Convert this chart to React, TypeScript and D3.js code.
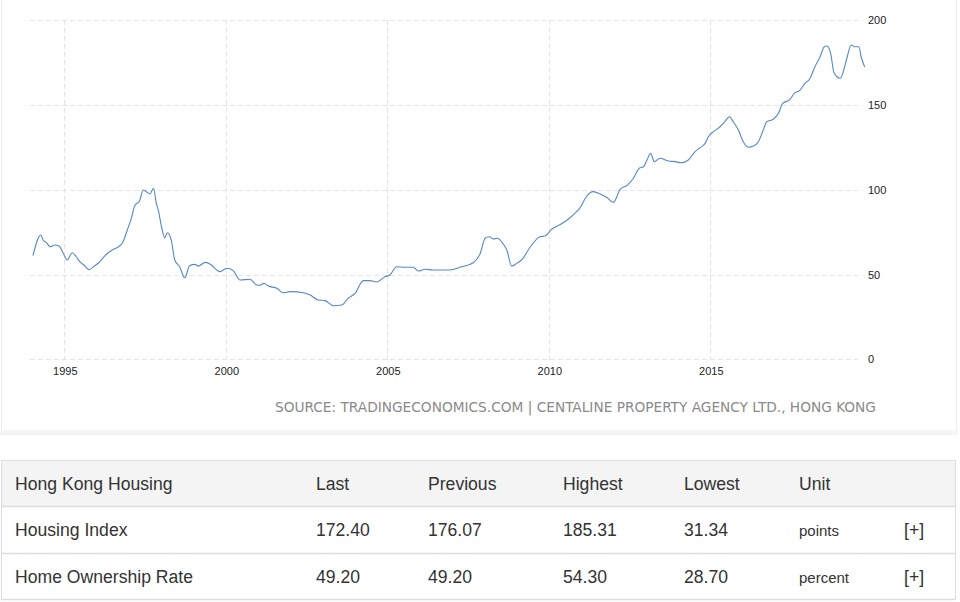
import React from "react";
import * as d3 from "d3";

// Hong Kong Housing Index (Centaline)
const years: number[] = [
  1994.03, 1994.27, 1994.36, 1994.44, 1994.56, 1994.7, 1994.84, 1994.96,
  1995.09, 1995.25, 1995.37, 1995.48, 1995.63, 1995.76, 1995.94,
  1996.06, 1996.2, 1996.35, 1996.54, 1996.68, 1996.82, 1996.95,
  1997.07, 1997.18, 1997.33, 1997.44, 1997.54, 1997.65, 1997.76, 1997.85, 1997.92,
  1998.0, 1998.11, 1998.19, 1998.31, 1998.42, 1998.57, 1998.73, 1998.88,
  1999.04, 1999.15, 1999.36, 1999.51, 1999.82,
  2000.03, 2000.23, 2000.44, 2000.75, 2000.96,
  2001.06, 2001.18, 2001.32, 2001.58, 2001.78, 2001.99,
  2002.4, 2002.61, 2002.86, 2003.07, 2003.33, 2003.59, 2003.79,
  2004.0, 2004.26, 2004.46, 2004.67, 2004.93,
  2005.08, 2005.29, 2005.55, 2005.8, 2005.96,
  2006.17, 2006.42, 2006.94, 2007.25, 2007.66, 2007.87,
  2008.03, 2008.16, 2008.28, 2008.41, 2008.59, 2008.7, 2008.85,
  2009.01, 2009.16, 2009.42, 2009.73, 2009.88,
  2010.09, 2010.32, 2010.6, 2010.86, 2010.97,
  2011.15, 2011.38, 2011.59, 2011.79, 2012.0,
  2012.21, 2012.43, 2012.62, 2012.8, 2012.93,
  2013.05, 2013.15, 2013.27, 2013.44, 2013.7, 2013.91,
  2014.11, 2014.32, 2014.53, 2014.68, 2014.84, 2014.94,
  2015.1, 2015.3, 2015.45, 2015.59, 2015.71, 2015.87,
  2016.02, 2016.18, 2016.33, 2016.49, 2016.64, 2016.75, 2016.95,
  2017.11, 2017.24, 2017.45, 2017.62, 2017.76, 2017.93,
  2018.07, 2018.24, 2018.4, 2018.53, 2018.61, 2018.73, 2018.82, 2018.92,
  2019.03, 2019.13, 2019.24, 2019.36, 2019.47, 2019.6, 2019.67, 2019.78,
];

const values: number[] = [
  61.1, 73.3, 69.8, 69.0, 66.4, 67.4, 66.8, 62.9,
  58.6, 62.9, 60.5, 57.6, 55.2, 52.9, 55.2,
  56.8, 59.9, 62.7, 65.1, 66.4, 69.4, 76.3,
  82.8, 90.6, 93.4, 99.9, 98.9, 97.5, 100.9, 92.0, 87.1,
  79.2, 71.7, 74.7, 70.4, 58.6, 54.6, 48.1, 55.2,
  56.0, 55.0, 57.2, 56.2, 51.7,
  53.7, 52.3, 46.8, 47.2, 43.8,
  43.7, 44.8, 43.2, 41.9, 39.3, 39.9,
  39.3, 37.9, 35.0, 34.6, 31.6, 32.0, 36.0,
  38.9, 46.4, 46.4, 45.6, 48.7,
  49.7, 54.6, 54.3, 54.3, 52.1,
  53.1, 52.7, 52.7, 54.3, 57.0, 62.1,
  71.4, 72.3, 71.0, 71.4, 68.0, 64.5, 55.0,
  56.6, 58.6, 66.1, 72.3, 72.7,
  76.7, 79.2, 82.6, 87.1, 89.4,
  95.6, 98.9, 97.5, 95.6, 92.6,
  100.3, 102.8, 106.8, 112.7, 113.6,
  118.0, 121.5, 116.6, 118.6, 117.0, 116.6,
  116.0, 117.6, 122.5, 124.8, 127.4, 131.3,
  134.3, 137.2, 140.2, 143.1, 140.2, 135.3,
  128.4, 125.1, 125.8, 128.4, 135.3, 140.2, 141.6,
  145.1, 151.0, 153.0, 157.3, 158.5, 162.8,
  165.2, 172.6, 178.5, 184.4, 184.8, 180.1, 169.7, 166.7,
  165.8, 170.7, 178.5, 185.4, 184.4, 184.4, 178.5, 172.4,
];

const xTicks: number[] = [1995, 2000, 2005, 2010, 2015];
const yTicks: number[] = [0, 50, 100, 150, 200];

const tableHeader: string[] = ["Hong Kong Housing", "Last", "Previous", "Highest", "Lowest", "Unit", ""];
const rowNames: string[] = ["Housing Index", "Home Ownership Rate"];
const lastVals: string[] = ["172.40", "49.20"];
const prevVals: string[] = ["176.07", "49.20"];
const highVals: string[] = ["185.31", "54.30"];
const lowVals: string[] = ["31.34", "28.70"];
const units: string[] = ["points", "percent"];

const sourceText = "SOURCE: TRADINGECONOMICS.COM | CENTALINE PROPERTY AGENCY LTD., HONG KONG";

export default function App() {
  const W = 960;
  const H = 602;
  const x = d3.scaleLinear().domain([1995, 2015]).range([64.3, 710.3]);
  const y = d3.scaleLinear().domain([0, 200]).range([359.3, 20.3]);
  const gridLeft = 30;
  const gridRight = 858;

  const pts: [number, number][] = years.map((yr, i) => [yr, values[i]]);
  const line = d3
    .line<[number, number]>()
    .x((d) => x(d[0]))
    .y((d) => y(d[1]))
    .curve(d3.curveMonotoneX);

  const font = "'Liberation Sans', Arial, sans-serif";
  const colX = [15, 316, 428, 563, 684, 799, 904];
  const rowTop = [460.5, 506.5, 553.5];
  const rowBottom = [506.5, 553.5, 599.5];
  const fs = 17.6;

  return (
    <div style={{ position: "absolute", left: 0, top: 0 }}>
      <svg width={W} height={H} style={{ display: "block" }}>
        <rect x={0} y={0} width={W} height={H} fill="#ffffff" />
        {/* chart card */}
        <rect x={1.5} y={-2} width={955} height={433} fill="#ffffff" stroke="#ededed" strokeWidth={1} />
        <rect x={0} y={432} width={958} height={3} fill="#f4f4f4" />

        {/* horizontal grid */}
        {yTicks.map((t) => (
          <line
            key={"hy" + t}
            x1={gridLeft}
            x2={gridRight}
            y1={Math.round(y(t)) + 0.5}
            y2={Math.round(y(t)) + 0.5}
            stroke="#e4e4e4"
            strokeDasharray="5,3"
            strokeWidth={1}
          />
        ))}
        {/* vertical grid */}
        {xTicks.map((t) => (
          <line
            key={"vx" + t}
            x1={Math.round(x(t)) + 0.5}
            x2={Math.round(x(t)) + 0.5}
            y1={20}
            y2={360}
            stroke="#e4e4e4"
            strokeDasharray="5,3"
            strokeWidth={1}
          />
        ))}

        {/* y labels */}
        {yTicks.map((t) => (
          <text
            key={"yl" + t}
            x={868}
            y={y(t) + 4}
            fontFamily={font}
            fontSize={11}
            fill="#222"
          >
            {t}
          </text>
        ))}
        {/* x labels */}
        {xTicks.map((t) => (
          <text
            key={"xl" + t}
            x={x(t) + 1}
            y={375}
            textAnchor="middle"
            fontFamily={font}
            fontSize={11}
            fill="#222"
          >
            {t}
          </text>
        ))}

        {/* series line */}
        <path d={line(pts) || ""} fill="none" stroke="#5588c6" strokeWidth={1.1} />

        {/* source */}
        <text
          x={876}
          y={412}
          textAnchor="end"
          fontFamily="'DejaVu Sans Condensed', 'Liberation Sans Narrow', sans-serif"
          fontSize={14}
          fill="#8a8a8a"
          textLength={601}
          lengthAdjust="spacingAndGlyphs"
        >
          {sourceText}
        </text>

        {/* table */}
        <rect x={1.5} y={rowTop[0]} width={954} height={46} fill="#f4f4f4" />
        <rect x={1.5} y={rowTop[0]} width={954} height={rowBottom[2] - rowTop[0]} fill="none" stroke="#dddddd" />
        {rowBottom.map((b, i) => (
          <line key={"rb" + i} x1={1.5} x2={955.5} y1={b} y2={b} stroke="#dddddd" strokeWidth={1.5} />
        ))}
        {tableHeader.map((h, i) => (
          <text key={"th" + i} x={colX[i]} y={490} fontFamily={font} fontSize={fs} fill="#333">
            {h}
          </text>
        ))}
        {rowNames.map((name, r) => {
          const cy = r === 0 ? 536 : 583;
          return (
            <g key={"row" + r}>
              <text x={colX[0]} y={cy} fontFamily={font} fontSize={fs} fill="#333">{name}</text>
              <text x={colX[1]} y={cy} fontFamily={font} fontSize={fs} fill="#333">{lastVals[r]}</text>
              <text x={colX[2]} y={cy} fontFamily={font} fontSize={fs} fill="#333">{prevVals[r]}</text>
              <text x={colX[3]} y={cy} fontFamily={font} fontSize={fs} fill="#333">{highVals[r]}</text>
              <text x={colX[4]} y={cy} fontFamily={font} fontSize={fs} fill="#333">{lowVals[r]}</text>
              <text x={colX[5]} y={cy} fontFamily={font} fontSize={15} fill="#333">{units[r]}</text>
              <text x={colX[6]} y={cy} fontFamily={font} fontSize={fs} fill="#333">[+]</text>
            </g>
          );
        })}
      </svg>
    </div>
  );
}
